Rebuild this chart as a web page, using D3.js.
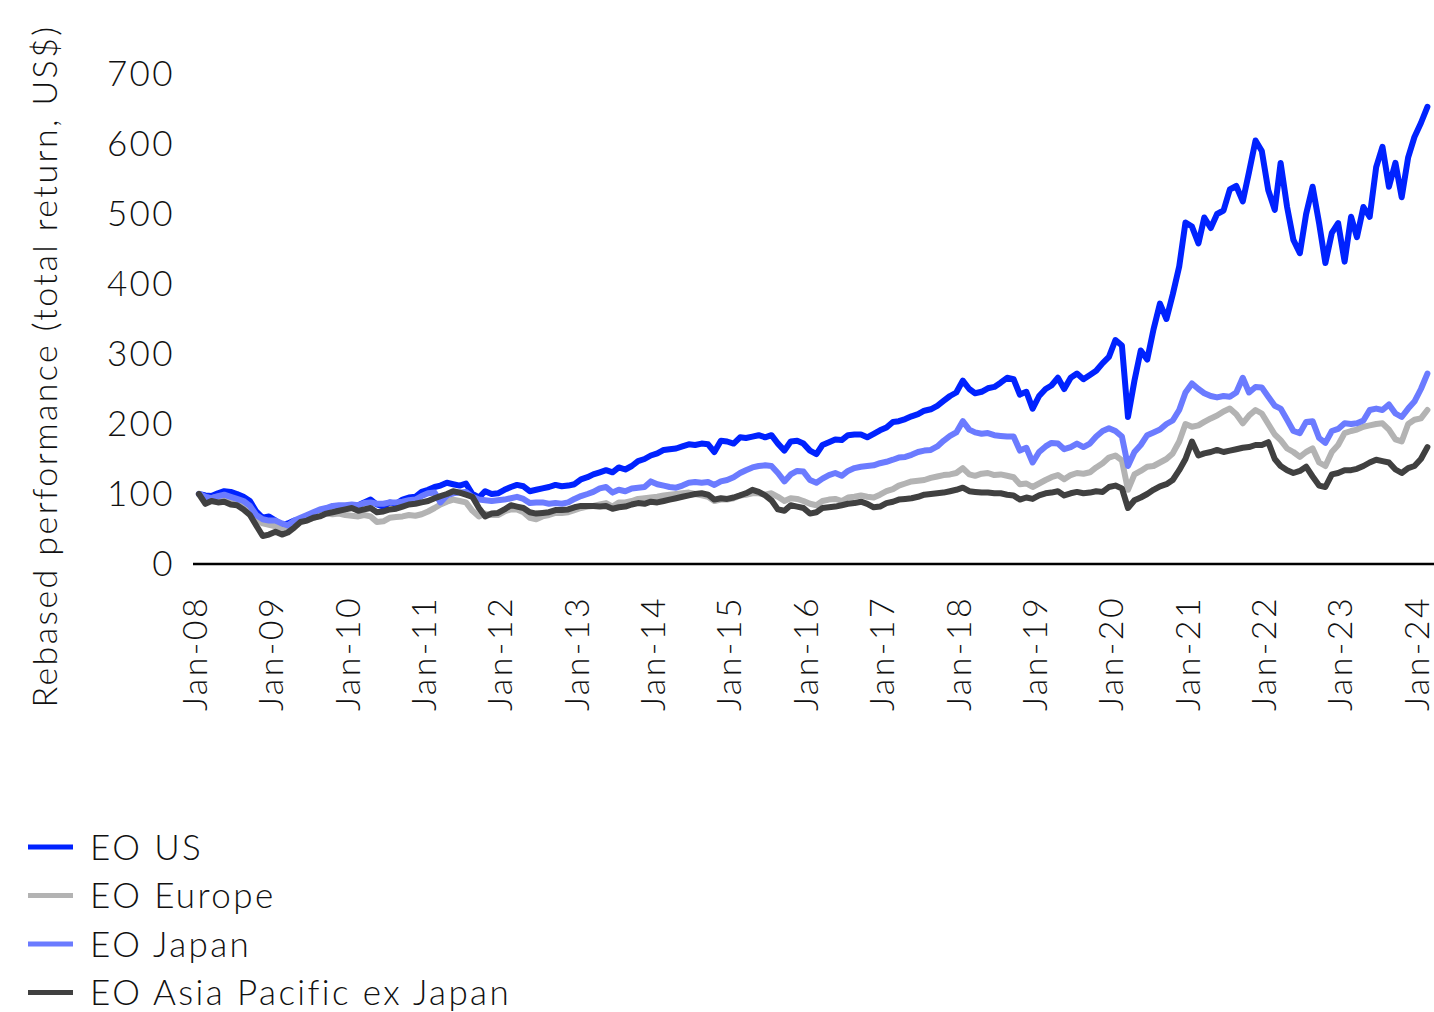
<!DOCTYPE html>
<html>
<head>
<meta charset="utf-8">
<script src="https://cdn.jsdelivr.net/npm/d3@7"></script>
<style>
  html, body { margin: 0; padding: 0; background: #fff; }
  svg text { font-family: Lato, "Open Sans", sans-serif; font-weight: 300; letter-spacing: 2.4px; fill: #111; }
</style>
</head>
<body>
<div id="chart"></div>
<script>
// monthly values (mid-month), Jan 2008 .. Feb 2024, rebased to 100
const firstMonth = new Date(2008, 0, 15);

const usValues = [
  100, 98, 97, 101, 104, 103, 100, 96, 90, 75, 66, 68,
  62, 55, 58, 62, 64, 63, 68, 71, 74, 73, 77, 79,
  82, 84, 88, 92, 85, 82, 88, 86, 92, 95, 96, 103,
  106, 110, 112, 116, 114, 112, 115, 100, 95, 104, 100, 101,
  106, 110, 113, 111, 104, 106, 108, 110, 113, 111, 112, 114,
  121, 124, 128, 131, 134, 131, 138, 135, 140, 147, 150, 155,
  158, 163, 164, 165, 168, 171, 170, 172, 171, 160, 176, 175,
  172, 181, 180, 182, 184, 181, 184, 172, 162, 175, 176, 172,
  162, 157, 170, 174, 178, 177, 184, 185, 185, 181, 186, 191,
  195, 203, 204, 207, 211, 214, 219, 221, 226, 233, 240, 245,
  262, 250, 244, 246, 251, 253, 259, 266, 264, 242, 246, 222,
  240, 250, 255, 266, 250, 266, 272, 264, 270, 276, 287, 296,
  320, 312, 210, 262, 305, 292, 335, 372, 350, 385, 425, 488,
  482, 458, 495, 480, 500, 505, 535, 540, 518, 560, 605, 590,
  534, 506, 573, 510, 463, 444, 500, 539, 487, 430, 473, 487,
  432, 496, 467, 510, 496, 567, 596, 539, 573, 524, 581, 610,
  630, 653
];

const europeValues = [
  100, 95, 94, 96, 97, 91, 88, 86, 78, 64, 58, 56,
  54, 49, 50, 57, 62, 63, 66, 69, 72, 71, 72, 70,
  69, 68, 70, 68, 60, 61, 66, 67, 68, 70, 69, 71,
  75, 80, 85, 89, 92, 90, 88, 76, 68, 72, 70, 70,
  75, 78, 78, 74, 66, 64, 68, 70, 73, 73, 74, 77,
  80, 82, 83, 85, 87, 82, 88, 88, 90, 93, 94, 95,
  96, 98, 99, 100, 101, 102, 100, 98, 96, 90, 92, 92,
  94, 98, 99, 101, 101, 99, 101, 96, 90, 94, 93, 90,
  86, 84, 90, 92, 93, 90, 95, 96, 98, 96, 95, 99,
  104, 107, 112, 115, 118, 119, 120, 123, 125, 127, 128, 130,
  137, 128, 126, 129, 130, 127, 128, 126, 124, 114, 115, 110,
  115, 120, 124, 127, 121, 127, 130, 129, 131, 138, 144, 152,
  155, 148, 106, 128, 133, 139, 140, 145, 150, 158, 175, 200,
  196, 198, 203, 208, 212, 218, 222, 214, 201, 212, 220, 215,
  200, 185, 177, 165, 160, 153, 160, 165, 145, 140, 160, 170,
  187, 190, 192, 196, 198, 200, 201, 192, 178, 175, 200, 206,
  208, 220
];

const japanValues = [
  100, 96, 94, 97, 99, 96, 93, 90, 83, 70, 64, 62,
  62, 58, 55, 62, 66, 70, 74, 78, 80, 83, 84, 84,
  85, 84, 87, 88, 86, 86, 88, 88, 89, 91, 92, 97,
  101, 102, 88, 98, 101, 102, 103, 96, 92, 91, 90, 91,
  92, 94, 96, 93, 87, 88, 88, 86, 87, 86, 88, 93,
  97, 100, 103, 108, 110, 102, 106, 104, 108, 109, 110, 118,
  114, 112, 110, 109, 112, 116, 117, 116, 117, 113, 118, 120,
  124, 130, 134, 138, 140, 141, 140, 130, 118, 128, 133, 132,
  120, 116, 122, 127, 130, 126, 133, 137, 139, 140, 141, 144,
  146, 149, 152, 153, 156, 160, 162, 163, 168, 176, 183, 188,
  204, 192, 188, 186, 187, 184, 183, 182, 182, 162, 166, 145,
  160, 168, 173, 172, 164, 167, 172, 167, 172, 182, 190, 194,
  190, 182, 140, 160, 170, 184, 188, 192, 200, 205, 220, 245,
  258, 250, 244, 240, 238, 240, 239, 245, 266, 245, 253, 252,
  239, 226, 222, 206, 190, 187, 203, 204, 180, 173, 190, 193,
  201, 200, 201, 205, 220, 222, 220, 228, 215, 210, 222, 232,
  250, 272
];

const apacValues = [
  100, 86, 90, 88, 89, 85, 84, 78, 70, 55, 40, 42,
  46, 42, 45, 52, 60, 62, 66, 68, 72, 74, 76, 78,
  80, 76, 78, 80, 74, 75, 78, 79, 82, 85, 86, 88,
  90, 94, 97, 100, 104, 102, 99, 96, 80, 68, 72, 73,
  78, 84, 82, 80, 74, 72, 73, 74, 77, 77, 78, 81,
  83, 83, 83, 82, 83, 79, 81, 82, 85, 87, 86, 89,
  88, 90, 92, 94, 96, 98, 100, 101, 99, 92, 94, 93,
  95, 98, 101, 106, 103, 98, 91, 78, 76, 84, 82, 80,
  72, 74, 80, 81, 82, 84, 86, 87, 89, 86, 81, 82,
  87, 89, 92, 93, 94, 96, 99, 100, 101, 102, 104, 106,
  109, 104, 103, 102, 102, 101, 101, 99, 98, 92, 95, 93,
  98, 101, 102, 104, 98, 101, 103, 101, 102, 104, 103, 110,
  112, 108, 80, 91, 95, 100, 106, 111, 114, 120, 134, 150,
  175, 155, 158, 160, 163, 160, 162, 164, 166, 167, 170, 170,
  174, 150, 140, 134, 130, 133, 139, 125, 112, 110, 128, 130,
  134, 134, 136, 140, 145, 149, 147, 145, 135, 130, 137, 140,
  150, 167
];

const seriesNames = ["EO US", "EO Europe", "EO Japan", "EO Asia Pacific ex Japan"];
const seriesColors = ["#0022ff", "#b3b3b3", "#6b7bff", "#404040"];
const yTicks = [0, 100, 200, 300, 400, 500, 600, 700];
const xTickYears = [2008, 2009, 2010, 2011, 2012, 2013, 2014, 2015, 2016,
                    2017, 2018, 2019, 2020, 2021, 2022, 2023, 2024];

const W = 1434, H = 1012;
const margin = { top: 74, right: 14, bottom: 448, left: 196 };
const width = W - margin.left - margin.right;
const height = H - margin.top - margin.bottom;

const svg = d3.select("#chart").append("svg")
    .attr("width", W)
    .attr("height", H);

const g = svg.append("g")
    .attr("transform", "translate(" + margin.left + "," + margin.top + ")");

const x = d3.scaleTime()
    .domain([new Date(2008, 0, 1), new Date(2024, 0, 1)])
    .range([0, 1222]);

const y = d3.scaleLinear()
    .domain([0, 700])
    .range([height, 0]);

const allValues = [usValues, europeValues, japanValues, apacValues];
const series = seriesNames.map(function (name, i) {
    return {
        name: name,
        color: seriesColors[i],
        values: allValues[i].map(function (v, j) {
            return { date: d3.timeMonth.offset(firstMonth, j), value: v };
        })
    };
});

// y axis: labels only
const yAxis = g.append("g")
    .call(d3.axisLeft(y).tickValues(yTicks).tickSize(0).tickPadding(21));
yAxis.select(".domain").remove();
yAxis.selectAll("text")
    .style("font-size", "35px")
    .attr("fill", "#111");

// x axis: baseline + rotated labels
const xAxis = g.append("g")
    .attr("transform", "translate(0," + height + ")")
    .call(d3.axisBottom(x)
        .tickValues(xTickYears.map(function (yr) { return new Date(yr, 0, 1); }))
        .tickFormat(d3.timeFormat("%b-%y"))
        .tickSize(0));
xAxis.select(".domain")
    .attr("d", "M-3,0H" + (W - margin.left))
    .attr("stroke", "#000")
    .attr("stroke-width", 2.5);
xAxis.selectAll("text")
    .style("font-size", "34px")
    .attr("fill", "#111")
    .attr("text-anchor", "end")
    .attr("transform", "rotate(-90)")
    .attr("x", -32)
    .attr("y", -2)
    .attr("dy", "0.36em");

// axis title
svg.append("text")
    .attr("transform", "translate(57," + 366 + ") rotate(-90)")
    .attr("text-anchor", "middle")
    .style("font-size", "34px")
    .text("Rebased performance (total return, US$)");

// lines
const line = d3.line()
    .x(function (d) { return x(d.date); })
    .y(function (d) { return y(d.value); });

g.selectAll(".series")
    .data(series)
    .enter()
    .append("path")
        .attr("class", "series")
        .attr("fill", "none")
        .attr("stroke", function (d) { return d.color; })
        .attr("stroke-width", 6)
        .attr("stroke-linejoin", "round")
        .attr("stroke-linecap", "round")
        .attr("d", function (d) { return line(d.values); });

// legend
const legend = svg.append("g")
    .attr("transform", "translate(28,847)");
const item = legend.selectAll(".item")
    .data(series)
    .enter()
    .append("g")
        .attr("class", "item")
        .attr("transform", function (d, i) { return "translate(0," + (i * 48.5) + ")"; });
item.append("line")
    .attr("x1", 0).attr("x2", 45)
    .attr("stroke", function (d) { return d.color; })
    .attr("stroke-width", 5);
item.append("text")
    .attr("x", 62)
    .attr("dy", "0.36em")
    .style("font-size", "35px")
    .text(function (d) { return d.name; });
</script>
</body>
</html>
